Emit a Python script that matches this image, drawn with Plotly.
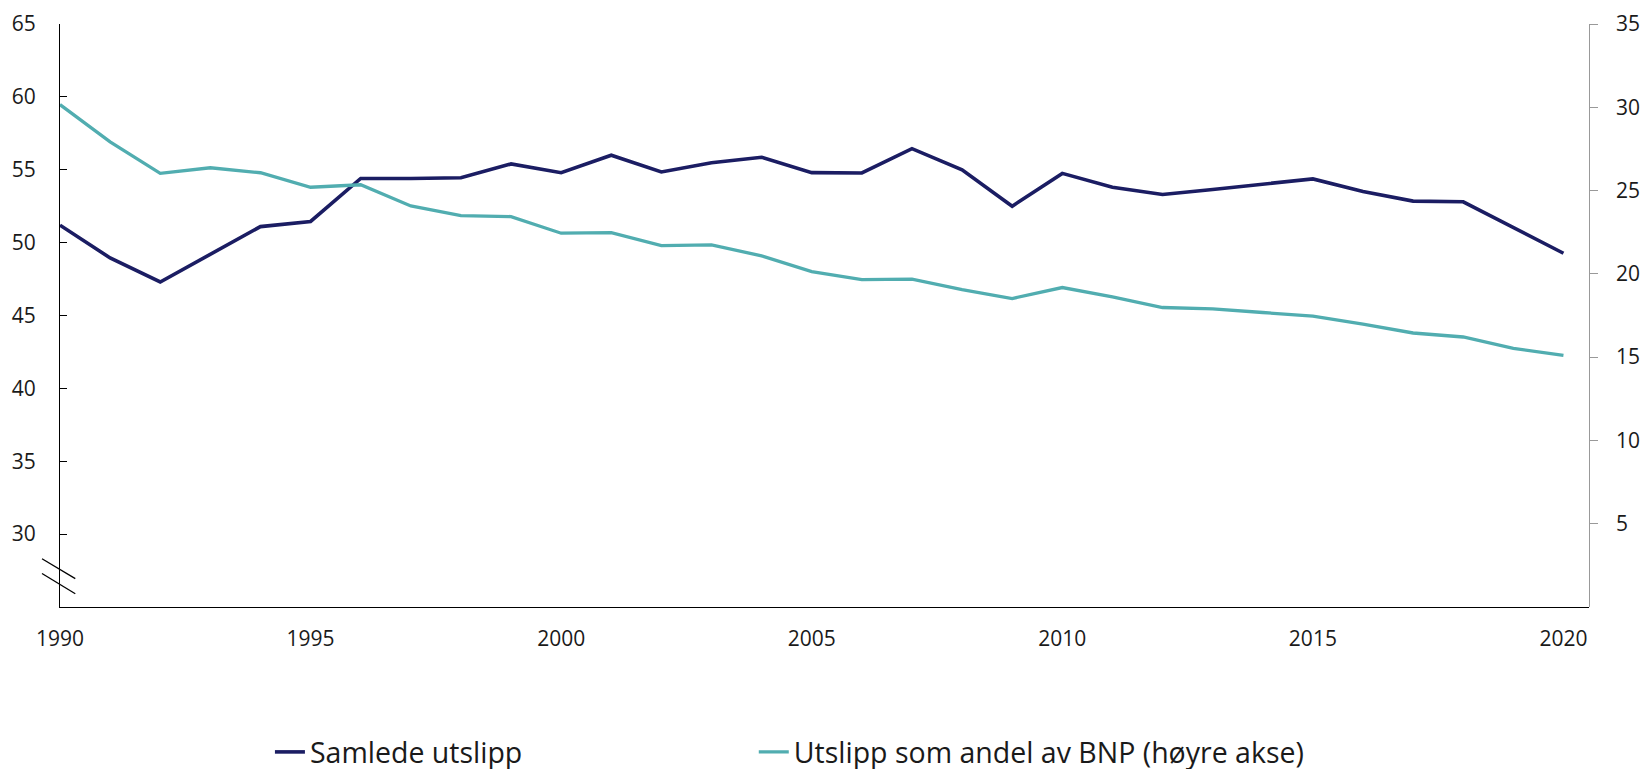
import plotly.graph_objects as go

years = list(range(1990, 2021))

samlede_utslipp = [51.2, 48.95, 47.3, 49.2, 51.1, 51.45, 54.4, 54.4, 54.45, 55.4, 54.8,
                   56.0, 54.85, 55.48, 55.86, 54.8, 54.78, 56.45, 55.0, 52.5, 54.75,
                   53.8, 53.3, 53.65, 53.98, 54.37, 53.5, 52.85, 52.8, 51.06, 49.27]

andel_bnp = [30.16, 27.92, 26.03, 26.37, 26.07, 25.2, 25.35, 24.08, 23.5, 23.44, 22.44,
             22.48, 21.69, 21.74, 21.08, 20.13, 19.65, 19.68, 19.06, 18.52, 19.18,
             18.62, 17.98, 17.9, 17.68, 17.46, 16.98, 16.45, 16.21, 15.53, 15.11]

left_ticks = [30, 35, 40, 45, 50, 55, 60, 65]
right_ticks = [5, 10, 15, 20, 25, 30, 35]
x_ticks = [1990, 1995, 2000, 2005, 2010, 2015, 2020]

name_left = "Samlede utslipp"
name_right = "Utslipp som andel av BNP (høyre akse)"

DARK = "#1b1d63"
TEAL = "#51adb0"
FONT = "Open Sans"
TXT = "#1a1a1a"

W, H = 1651, 769
ml, mr, mt, mb = 52, 43.5, 16, 169.5
pw = W - ml - mr
ph = H - mt - mb
axis_right_px = 1581          # pixel position of the right value axis
dom_end = (axis_right_px - ml) / pw


def px(xp):
    return (xp - ml) / pw


leg_y = (H - mb - 745) / ph

fig = go.Figure()
fig.add_trace(go.Scatter(x=years, y=samlede_utslipp, name=name_left, mode="lines",
                         line=dict(color=DARK, width=3.6), yaxis="y", legend="legend"))
fig.add_trace(go.Scatter(x=years, y=andel_bnp, name=name_right, mode="lines",
                         line=dict(color=TEAL, width=3.3), yaxis="y2", legend="legend2"))

fig.update_layout(
    width=W, height=H,
    margin=dict(l=ml, r=mr, t=mt, b=mb, autoexpand=False),
    paper_bgcolor="white", plot_bgcolor="white",
    font=dict(family=FONT, color=TXT, size=21),
    showlegend=True,
    legend=dict(orientation="h", x=px(262), xanchor="left",
                y=leg_y, yanchor="middle",
                font=dict(family=FONT, size=28.5, color=TXT),
                bgcolor="rgba(0,0,0,0)"),
    legend2=dict(orientation="h", x=px(746), xanchor="left",
                 y=leg_y, yanchor="middle",
                 font=dict(family=FONT, size=28.5, color=TXT),
                 bgcolor="rgba(0,0,0,0)"),
    xaxis=dict(domain=[0, dom_end], range=[1990, 2020.5], tickvals=x_ticks,
               showgrid=False, zeroline=False,
               showline=True, linecolor="black", linewidth=1.3, ticks="",
               automargin=False,
               tickfont=dict(family=FONT, size=21, color=TXT),
               ticklabelstandoff=13),
    yaxis=dict(range=[25, 65], tickvals=left_ticks, showgrid=False, zeroline=False,
               showline=True, linecolor="black", linewidth=1.3, automargin=False,
               ticks="inside", ticklen=7, tickcolor="black", tickwidth=1.2,
               tickfont=dict(family=FONT, size=21, color=TXT),
               ticklabelstandoff=19),
    yaxis2=dict(range=[0, 35], tickvals=right_ticks, overlaying="y", side="right",
                anchor="free", position=dom_end,
                showgrid=False, zeroline=False, showline=True, linecolor="#999999",
                linewidth=1.3, ticks="outside", ticklen=8, tickcolor="#999999",
                tickwidth=1.2, automargin=False, showticklabels=False),
    yaxis3=dict(range=[0, 35], tickvals=right_ticks, overlaying="y", side="right",
                anchor="free", position=1,
                showgrid=False, zeroline=False, showline=False, ticks="",
                automargin=False, showticklabels=True,
                tickfont=dict(family=FONT, size=21, color=TXT)),
)

# invisible helper trace so the label axis is drawn with the same scale
fig.add_trace(go.Scatter(x=[years[0]], y=[andel_bnp[0]], yaxis="y3", mode="lines",
                         showlegend=False, hoverinfo="skip",
                         line=dict(color="rgba(0,0,0,0)")))

# axis break marks on the left axis
for y0, y1 in [(28.31, 26.95), (27.30, 25.91)]:
    fig.add_shape(type="line", xref="paper", yref="y",
                  x0=px(34), x1=px(67.3), y0=y0, y1=y1,
                  line=dict(color="black", width=1.3))

fig.write_html("out.html")
